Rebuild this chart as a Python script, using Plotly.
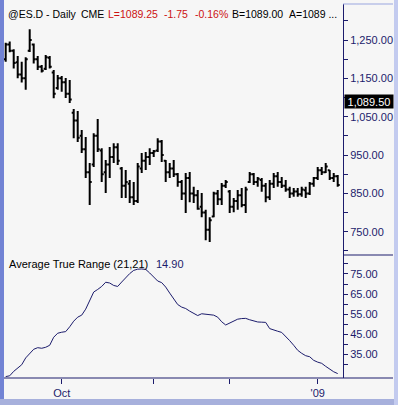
import plotly.graph_objects as go

# ---------------- data ----------------
bar_index = list(range(84))
high = [1243, 1246, 1226, 1208, 1193, 1205, 1278, 1241, 1208, 1185, 1211, 1208, 1172, 1159,
        1156, 1151, 1146, 1070, 1065, 1015, 997, 929, 1007, 1044, 968, 937, 971, 981,
        981, 919, 911, 885, 880, 929, 955, 958, 968, 963, 994, 989, 937, 929,
        937, 903, 885, 903, 906, 867, 859, 851, 807, 788, 854, 859, 877, 885,
        859, 838, 859, 864, 867, 906, 903, 893, 890, 877, 885, 903, 906, 893,
        885, 867, 864, 864, 867, 867, 880, 893, 919, 919, 929, 911, 903, 898]
low = [1193, 1218, 1176, 1150, 1139, 1120, 1219, 1189, 1172, 1165, 1172, 1176, 1098, 1120,
       1115, 1099, 1086, 994, 984, 955, 890, 820, 919, 958, 880, 851, 890, 929,
       924, 838, 838, 825, 820, 825, 903, 911, 924, 945, 958, 932, 880, 890,
       893, 867, 833, 799, 827, 825, 807, 788, 728, 723, 788, 820, 820, 864,
       799, 801, 807, 814, 799, 877, 872, 867, 854, 827, 833, 864, 867, 864,
       854, 838, 841, 841, 841, 838, 846, 867, 885, 898, 903, 885, 880, 867]
open_ = [1200, 1238, 1222, 1192, 1160, 1150, 1222, 1238, 1200, 1180, 1175, 1204, 1165, 1125,
         1150, 1140, 1110, 1060, 1040, 1000, 965, 905, 925, 1000, 962, 905, 925, 945,
         970, 915, 870, 875, 840, 830, 915, 935, 945, 955, 962, 985, 935, 905,
         915, 900, 880, 850, 890, 850, 845, 815, 800, 755, 790, 850, 835, 870,
         855, 815, 830, 845, 820, 880, 900, 880, 885, 870, 840, 875, 895, 880,
         870, 860, 850, 855, 848, 858, 850, 875, 890, 910, 905, 910, 890, 895]
close = [1238, 1222, 1190, 1160, 1150, 1200, 1250, 1200, 1180, 1170, 1205, 1180, 1110, 1150,
         1140, 1110, 1095, 1040, 995, 965, 905, 880, 1000, 965, 900, 925, 945, 970,
         935, 870, 880, 840, 830, 920, 935, 945, 955, 960, 985, 950, 905, 915,
         900, 880, 850, 890, 850, 845, 810, 800, 755, 780, 850, 835, 870, 880,
         815, 830, 845, 820, 860, 900, 880, 888, 870, 840, 875, 895, 880, 870,
         860, 850, 855, 848, 860, 850, 875, 890, 910, 905, 920, 890, 895, 872]
atr = [23.9, 24.3, 26.5, 28.3, 29.8, 33.2, 35.5, 37.5, 38.3, 38.0, 38.5, 39.5, 43.5, 45.5,
       46.0, 46.3, 48.7, 51.5, 53.5, 54.5, 57.5, 61.5, 66.0, 67.3, 68.8, 70.9, 70.5, 69.3,
       68.8, 71.0, 73.2, 75.2, 76.8, 77.4, 77.5, 77.3, 75.5, 73.5, 71.5, 70.7, 68.5, 65.5,
       62.8, 59.8, 58.5, 57.8, 56.5, 55.3, 54.3, 55.2, 55.0, 54.8, 54.5, 53.5, 51.2, 49.6,
       50.5, 51.6, 52.5, 52.8, 52.9, 52.2, 51.6, 51.1, 51.0, 50.9, 47.8, 47.0, 46.5, 45.9,
       44.0, 41.8, 39.5, 37.0, 35.5, 34.3, 33.8, 32.0, 31.1, 30.5, 29.0, 27.5, 26.3, 25.4]

month_tick_pos = [14, 37, 56, 78]
month_tick_text = ["Oct", "", "", "'09"]
price_ticks = [750, 850, 950, 1050, 1150, 1250]
price_minor = [700, 800, 900, 1000, 1100, 1200, 1300]
atr_ticks = [35, 45, 55, 65, 75]
atr_minor = [30, 40, 50, 60, 70, 80]
last_price = 1089.50
header_tokens = ["@ES.D - Daily", "CME", "L=1089.25", "-1.75", "-0.16%", "B=1089.00", "A=1089 ..."]
atr_title = "Average True Range (21,21)"
atr_last = "14.90"

# ---------------- geometry ----------------
W, H = 398, 405
ML, MR, MT, MB = 4, 5, 4, 27
PW = W - ML - MR
PH = H - MT - MB
AXIS_PX = 343
XDOM = (AXIS_PX - ML) / PW
SPLIT_PX = 255


def px(x):
    return (x - ML) / PW


def py(y):
    return (H - MB - y) / PH


split = py(SPLIT_PX)
NAVY = "#1c1c6c"
RED = "#cc1111"
BG = "#f6f6f6"
FONT = "Liberation Sans, Arial, sans-serif"
FS = 11

fig = go.Figure()
fig.add_trace(go.Ohlc(
    x=bar_index, open=open_, high=high, low=low, close=close,
    xaxis="x2", yaxis="y2",
    increasing=dict(line=dict(color="black", width=2)),
    decreasing=dict(line=dict(color="black", width=2)),
    tickwidth=0.5, showlegend=False, hoverinfo="skip",
))
fig.add_trace(go.Scatter(
    x=bar_index, y=atr, mode="lines", xaxis="x", yaxis="y",
    line=dict(color=NAVY, width=1), showlegend=False, hoverinfo="skip",
))

xr = [(ML - 5.7) / 4.0, (AXIS_PX - 5.7) / 4.0]

fig.update_layout(
    width=W, height=H,
    margin=dict(l=ML, r=MR, t=MT, b=MB, autoexpand=False),
    paper_bgcolor=BG, plot_bgcolor=BG,
    font=dict(family=FONT, size=FS, color=NAVY),
    xaxis=dict(domain=[0, XDOM], anchor="y", range=xr, automargin=False,
               tickmode="array", tickvals=month_tick_pos, ticktext=month_tick_text,
               ticks="outside", ticklen=5, tickcolor=NAVY, tickwidth=1,
               showline=False, showgrid=False, zeroline=False,
               rangeslider=dict(visible=False),
               tickfont=dict(family=FONT, size=FS, color=NAVY)),
    xaxis2=dict(domain=[0, XDOM], anchor="y2", range=xr, visible=False, automargin=False,
                showgrid=False, zeroline=False, rangeslider=dict(visible=False)),
    yaxis=dict(domain=[0, split], anchor="x", side="right", range=[23.2, 84.46],
               automargin=False,
               tickmode="array", tickvals=atr_ticks, tickformat=".2f",
               ticks="outside", ticklen=4, tickcolor=NAVY,
               minor=dict(tickmode="array", tickvals=atr_minor, ticks="outside",
                          ticklen=4, tickcolor=NAVY),
               showline=True, linecolor=NAVY, linewidth=1,
               showgrid=False, zeroline=False,
               tickfont=dict(family=FONT, size=FS, color=NAVY)),
    yaxis2=dict(domain=[split, 1], anchor="x2", side="right", range=[689.3, 1343.9],
                automargin=False,
                tickmode="array", tickvals=price_ticks, tickformat=",.2f",
                ticks="outside", ticklen=4, tickcolor=NAVY,
                minor=dict(tickmode="array", tickvals=price_minor, ticks="outside",
                           ticklen=4, tickcolor=NAVY),
                showline=True, linecolor=NAVY, linewidth=1,
                showgrid=False, zeroline=False,
                tickfont=dict(family=FONT, size=FS, color=NAVY)),
)

shapes = [
    dict(type="line", xref="paper", yref="paper", x0=0, x1=px(393), y0=0, y1=0,
         line=dict(color=NAVY, width=1.2)),
    dict(type="line", xref="paper", yref="paper", x0=XDOM, x1=px(393), y0=split, y1=split,
         line=dict(color=NAVY, width=1)),
    dict(type="line", xref="paper", yref="paper", x0=XDOM, x1=px(393), y0=1, y1=1,
         line=dict(color="#9aa6df", width=1)),
    dict(type="rect", xref="paper", yref="paper", x0=px(0), x1=px(4), y0=py(405), y1=py(0),
         fillcolor="#7283d4", line=dict(width=0), layer="above"),
    dict(type="rect", xref="paper", yref="paper", x0=px(0), x1=px(398), y0=py(405), y1=py(399),
         fillcolor="#a7b0dc", line=dict(width=0), layer="above"),
    dict(type="rect", xref="paper", yref="paper", x0=px(394), x1=px(398), y0=py(405), y1=py(0),
         fillcolor="#c3cbef", line=dict(width=0), layer="above"),
]
fig.update_layout(shapes=shapes)

header_x = [6, 79, 106, 162, 193, 230, 287]
header_col = ["black", "black", RED, RED, RED, "black", "black"]
annotations = []
for tok, x0, col in zip(header_tokens, header_x, header_col):
    annotations.append(dict(x=px(x0), y=py(14), text=tok, font=dict(color=col, family=FONT, size=10.5)))
annotations.append(dict(x=px(7), y=py(264), text=atr_title, font=dict(color="black", family=FONT, size=FS)))
annotations.append(dict(x=px(154), y=py(264), text=atr_last, font=dict(color=NAVY, family=FONT, size=FS)))
for a in annotations:
    a.update(xref="paper", yref="paper", xanchor="left", yanchor="middle", showarrow=False)
annotations.append(dict(
    xref="paper", yref="y2", x=px(344), y=last_price, xanchor="left", yanchor="middle",
    text="1,089.50", showarrow=False, bgcolor="black", width=48, height=13,
    font=dict(family=FONT, size=FS, color="white"), borderpad=0,
))
fig.update_layout(annotations=annotations)

fig.write_html("out.html", config={"displayModeBar": False},
               post_script="document.body.style.margin='0px';document.body.style.padding='0px';")
